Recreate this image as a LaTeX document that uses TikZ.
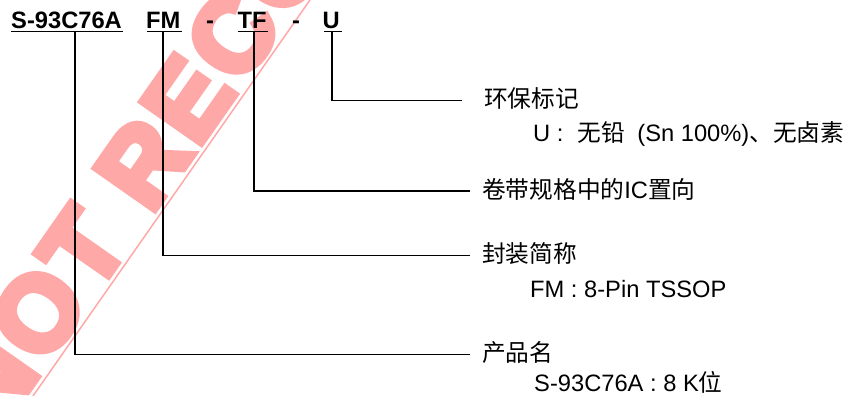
\documentclass[tikz,border=0pt]{standalone}
\usepackage{fontspec}
\usetikzlibrary{calc}
\setmainfont{Liberation Sans}
\newfontfamily\cjk{Noto Sans CJK SC}
\newfontfamily\wmfont[LetterSpace=5,FakeBold=7]{Liberation Sans Bold}
\definecolor{wmpink}{RGB}{255,168,168}
\begin{document}
\begin{tikzpicture}[x=1pt,y=-1pt,
  code/.style={inner sep=0pt, anchor=base west, font=\fontsize{23.7}{28}\selectfont\bfseries},
  lbl/.style={inner sep=0pt, anchor=base west, font=\fontsize{23.7}{28}\selectfont},
  conn/.style={line width=1.5pt, line join=miter},
  uline/.style={line width=1.4pt},
  wm/.style={inner sep=0pt, anchor=base west, rotate=55, text=wmpink,
    font=\wmfont\fontsize{105}{110}\selectfont}]
\clip (0,0) rectangle (847,396);
% watermark (drawn first, under the drawing)
\node[wm] (wmtext) at (-2.3,433.5) {NOT RECOMMENDED};
\coordinate (wmA) at (33,396);
\coordinate (wmB) at (310,0);
\draw[wmpink, line width=1.5pt] ($(wmA)!-0.1!(wmB)$) -- ($(wmA)!1.1!(wmB)$);
% part number
\node[code] (pn) at (11,29) {S-93C76A};
\node[code] (pk) at (146,29) {FM};
\node[code] (d1) at (206,29) {-};
\node[code] (tf) at (237.5,29) {TF};
\node[code] (d2) at (292,29) {-};
\node[code] (eu) at (322.5,29) {U};
% underlines
\draw[uline] (11,31.7) -- (123,31.7);
\draw[uline] (147,31.7) -- (182,31.7);
\draw[uline] (238,31.7) -- (268,31.7);
\draw[uline] (324,31.7) -- (342,31.7);
% connector endpoints
\coordinate (tU) at (332,31.7);
\coordinate (eU) at (462,100.5);
\coordinate (tT) at (254,31.7);
\coordinate (eT) at (470,191);
\coordinate (tF) at (163,31.7);
\coordinate (eF) at (470,255.5);
\coordinate (tS) at (75,31.7);
\coordinate (eS) at (470,354.5);
\draw[conn] (tU) |- (eU);
\draw[conn] (tT) |- (eT);
\draw[conn] (tF) |- (eF);
\draw[conn] (tS) |- (eS);
% labels
\node[lbl] (l1) at (484,107) {\cjk 环保标记};
\node[lbl] (l1b) at (533,141) {U :\hspace{14.5pt}{\cjk 无铅}\hspace{12pt}(Sn 100\%){\cjk 、无卤素}};
\node[lbl] (l2) at (482,198) {{\cjk 卷带规格中的}IC{\cjk 置向}};
\node[lbl] (l3) at (482,262) {\cjk 封装简称};
\node[lbl] (l3b) at (530,297) {FM : 8-Pin TSSOP};
\node[lbl] (l4) at (482,361) {\cjk 产品名};
\node[lbl] (l4b) at (534,391) {S-93C76A : 8 K{\cjk 位}};
\end{tikzpicture}
\end{document}
